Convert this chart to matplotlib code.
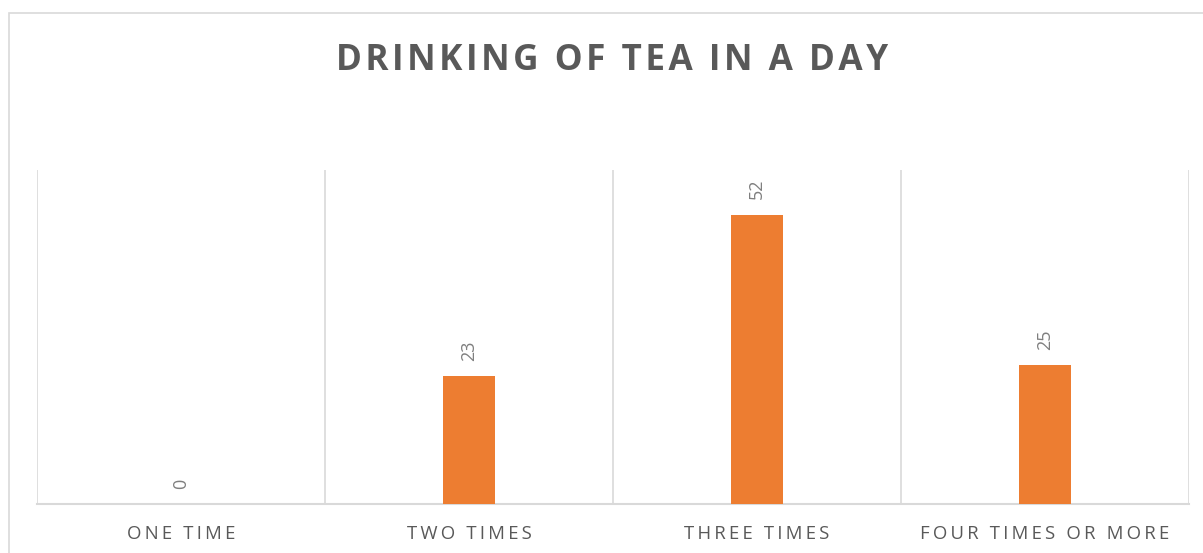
import matplotlib.pyplot as plt
from matplotlib.patches import Rectangle
import numpy as np

categories = ['ONE TIME', 'TWO TIMES', 'THREE TIMES', 'FOUR TIMES OR MORE']
values = [0, 23, 52, 25]
title = 'DRINKING OF TEA IN A DAY'

plt.rcParams['font.family'] = ['Open Sans', 'DejaVu Sans']


def spaced(s, sep='\u2009'):
    # fake letter spacing
    return sep.join(s)


W, H = 1203, 553
fig = plt.figure(figsize=(W / 100, H / 100), dpi=100)

# chart border (runs off the picture at right and bottom)
fig.patches.append(Rectangle((9 / W, -0.1), 1.2, (H - 13) / H + 0.1,
                             transform=fig.transFigure, fill=False,
                             edgecolor='#d9d9d9', linewidth=1.2))

ax = fig.add_axes([37 / W, (H - 504) / H, (1189 - 37) / W, (504 - 170) / H])
x = np.arange(len(categories))
bars = ax.bar(x, values, width=0.184, color='#ed7d31', zorder=3)

ax.set_xlim(-0.5, len(categories) - 0.5)
ax.set_ylim(0, 60)
ax.set_xticks(x)
ax.set_xticklabels([spaced(c) for c in categories], fontsize=13.4, color='#595959')
ax.set_xticks(np.arange(-0.5, len(categories)), minor=True)
ax.tick_params(axis='x', which='both', length=0, pad=15)
ax.set_yticks([])
ax.grid(True, which='minor', axis='x', color='#d9d9d9', linewidth=1.2, zorder=0)
for s in ['top', 'left', 'right']:
    ax.spines[s].set_visible(False)
ax.spines['bottom'].set_color('#d9d9d9')
ax.spines['bottom'].set_linewidth(1.5)

for rect, v in zip(bars, values):
    ax.annotate(str(v), (rect.get_x() + rect.get_width() / 2, v),
                xytext=(0, 11), textcoords='offset points',
                rotation=90, ha='center', va='bottom',
                fontsize=13, color='#7f7f7f')

fig.text(612 / W, 1 - 61 / H, spaced(title, '\u200a'), ha='center', va='center',
         fontsize=25.3, fontweight='bold', color='#595959')

fig.savefig('out.png', dpi=100)
